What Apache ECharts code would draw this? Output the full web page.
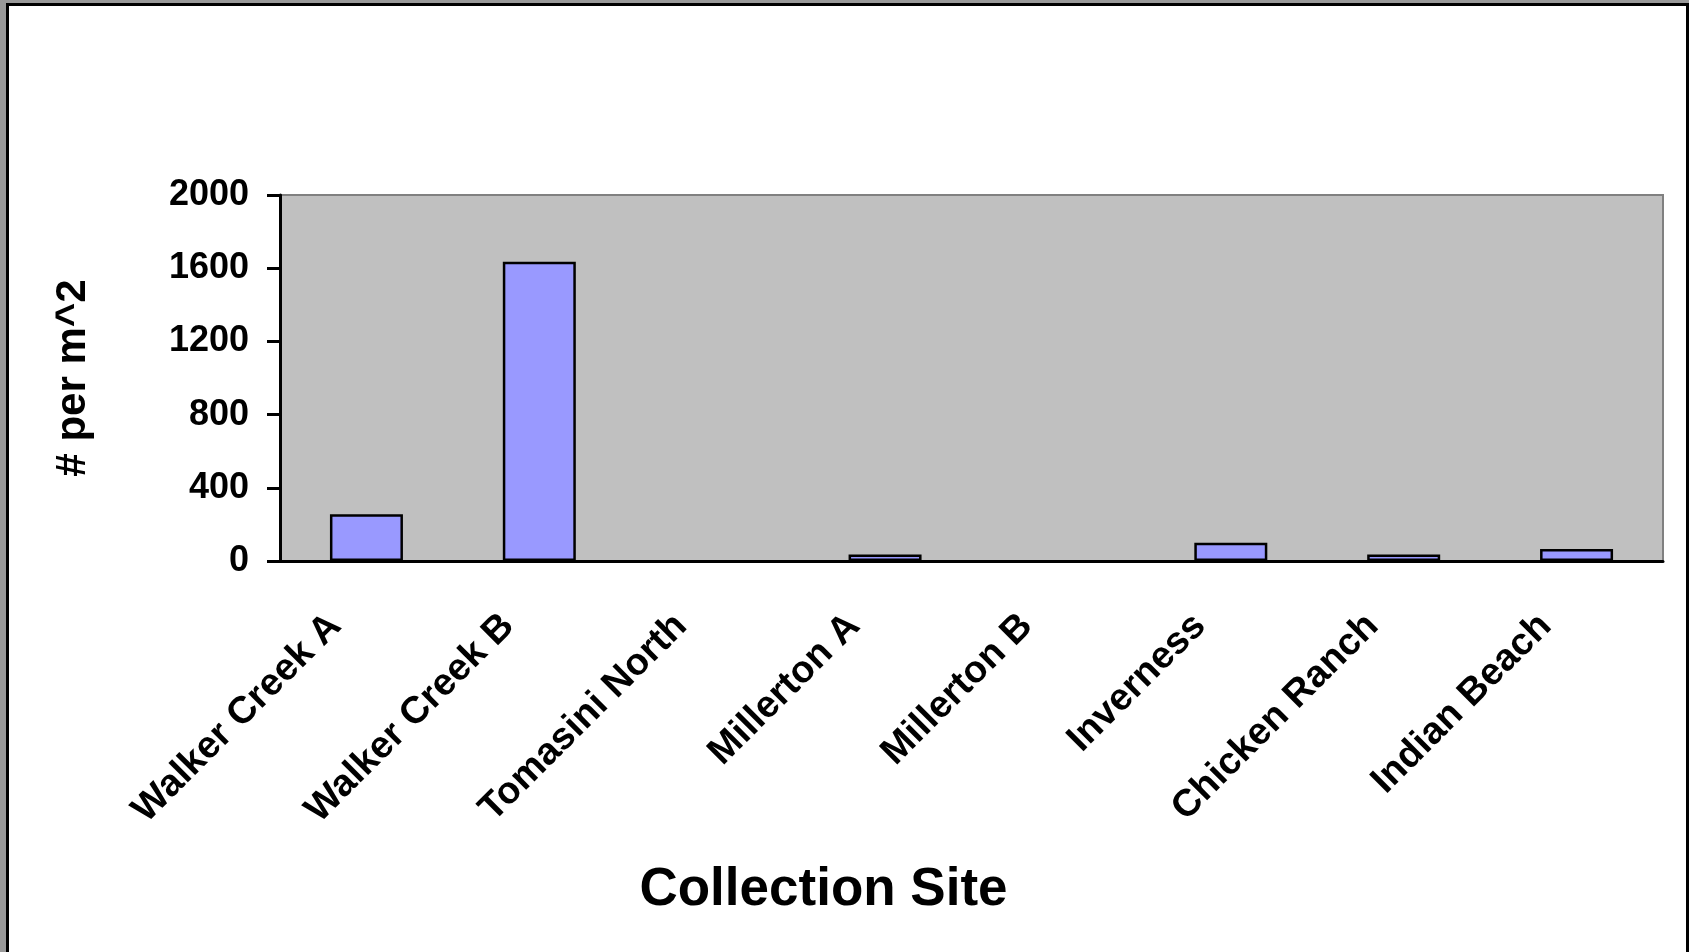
<!DOCTYPE html>
<html>
<head>
<meta charset="utf-8">
<title>Collection Site</title>
<script src="https://cdn.jsdelivr.net/npm/echarts@6/dist/echarts.min.js"></script>
<style>
  html, body { margin: 0; padding: 0; width: 1689px; height: 952px; overflow: hidden; background: #999999; }
  #frame { position: absolute; left: 6px; top: 3px; width: 1677px; height: 960px; border: 3px solid #000; border-bottom: none; background: #ffffff; }
  #chart { position: absolute; left: 0; top: 0; width: 1689px; height: 952px; }
</style>
</head>
<body>
<div id="frame"></div>
<div id="chart"></div>
<script>
// Sites sampled and density found at each (# per m^2)
const sites = ['Walker Creek A', 'Walker Creek B', 'Tomasini North', 'Millerton A',
               'Millerton B', 'Inverness', 'Chicken Ranch', 'Indian Beach'];
const densities = [255, 1635, 0, 35, 0, 100, 35, 65];
const yTicks = { min: 0, max: 2000, interval: 400 };

const FONT = '"Liberation Sans", Arial, sans-serif';

// Empty sites get no outline, so nothing is drawn on the axis for them
const barData = densities.map(v => v === 0
  ? { value: v, itemStyle: { borderWidth: 0 } }
  : { value: v });

const chart = echarts.init(document.getElementById('chart'), null, { renderer: 'canvas' });
chart.setOption({
  backgroundColor: 'transparent',
  animation: false,
  grid: {
    left: 280, top: 195, right: 26, bottom: 391,
    show: true, backgroundColor: '#C0C0C0', borderColor: '#808080', borderWidth: 2
  },
  xAxis: {
    type: 'category',
    data: sites,
    name: 'Collection Site',
    nameLocation: 'middle',
    nameGap: 303,
    nameTextStyle: {
      fontFamily: FONT, fontWeight: 'bold', fontSize: 53, color: '#000',
      padding: [0, 296, 0, 0]
    },
    axisLine: { show: true, lineStyle: { color: '#000', width: 3 } },
    axisTick: { show: false },
    axisLabel: {
      rotate: 45, interval: 0, margin: 28,
      fontFamily: FONT, fontWeight: 'bold', fontSize: 38, color: '#000',
      padding: [0, 44, 0, 0]
    },
    splitLine: { show: false }
  },
  yAxis: {
    type: 'value',
    min: yTicks.min, max: yTicks.max, interval: yTicks.interval,
    name: '# per m^2',
    nameLocation: 'middle',
    nameGap: 186,
    nameRotate: 90,
    nameTextStyle: { fontFamily: FONT, fontWeight: 'bold', fontSize: 42, color: '#000' },
    axisLine: { show: true, lineStyle: { color: '#000', width: 3 } },
    axisTick: { show: true, inside: false, length: 13, lineStyle: { color: '#000', width: 3 } },
    axisLabel: {
      margin: 31, fontFamily: FONT, fontWeight: 'bold', fontSize: 36, color: '#000',
      formatter: v => String(v)
    },
    splitLine: { show: false }
  },
  series: [{
    type: 'bar',
    data: barData,
    barWidth: 73,
    itemStyle: { color: '#9999FF', borderColor: '#000', borderWidth: 2.5 }
  }]
});
</script>
</body>
</html>
